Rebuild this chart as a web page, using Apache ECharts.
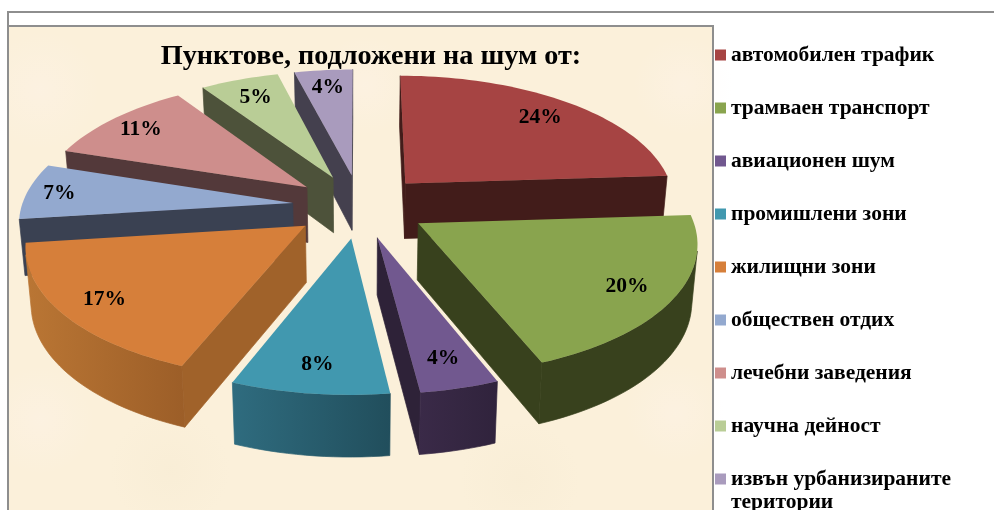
<!DOCTYPE html>
<html lang="bg">
<head>
	<meta charset="UTF-8">
	<title>Пунктове, подложени на шум</title>
	<style>
	body, div {
		margin: 0;
		padding: 0;
	}
	#echart {
		width: 994px;
		height: 510px;
	}
	</style>
</head>
<body>
	<div id="echart"></div>

	<script src="https://cdn.jsdelivr.net/npm/echarts@6/dist/echarts.min.js"></script>

	<script>
	// data, clockwise from 12 o'clock
	var chartTitle = 'Пунктове, подложени на шум от:';
	var categories = [
		'автомобилен трафик',
		'трамваен транспорт',
		'авиационен шум',
		'промишлени зони',
		'жилищни зони',
		'обществен отдих',
		'лечебни заведения',
		'научна дейност',
		'извън урбанизираните територии'
	];
	var values = [24, 20, 4, 8, 17, 7, 10.6, 5.4, 4];

	// colours, same order as categories
	var topColors = ['#A64443', '#89A44E', '#71588F', '#4198AF', '#D67F3A', '#93A9CF', '#CE8E8C', '#B9CD96', '#A99BBD'];
	var faceColors = ['#421C1A', '#38411D', '#2E2238', '#214E5C', '#A0622A', '#3A4152', '#53393A', '#4D523A', '#44404E'];
	var wallLeft = ['#421C1A', '#38411D', '#3A2A48', '#2F6C7F', '#BA7634', '#3A4152', '#53393A', '#4D523A', '#44404E'];
	var wallRight = ['#421C1A', '#38411D', '#30233C', '#214E5C', '#9C5E28', '#3A4152', '#53393A', '#4D523A', '#44404E'];

	// back slices first, front slices paint over them
	var drawOrder = [8, 7, 6, 5, 4, 0, 1, 3, 2];

	// projection of the tilted pie
	var cx = 360, cy = 206;
	var scaleX = 271, scaleY = 127, persp = 0.129;
	var explode = 0.25;
	var labelPos = [0.82, 0.83, 0.82, 0.83, 0.84, 0.88, 0.85, 0.81, 0.83];

	var total = values.reduce(function (a, b) { return a + b; }, 0);
	var starts = [];
	values.reduce(function (sum, v, i) {
		starts[i] = sum / total * Math.PI * 2;
		return sum + v;
	}, 0);

	function project(x, y) {
		var w = 1 + persp * y;
		return [cx + scaleX * x / w, cy - scaleY * y / w];
	}
	// same point on the bottom plane of the pie
	function lower(x, y) {
		var p = project(x, y);
		return [cx + (p[0] - cx) * 0.983, p[1] + 56 - 4.9 * y];
	}
	function area(pts) {
		var s = 0;
		for (var i = 0; i < pts.length; i++) {
			var a = pts[i], b = pts[(i + 1) % pts.length];
			s += a[0] * b[1] - b[0] * a[1];
		}
		return s;
	}

	function sliceItem(idx) {
		return function (params, api) {
			var a0 = starts[idx];
			var a1 = a0 + api.value(0) / total * Math.PI * 2;
			var mid = (a0 + a1) / 2;
			var ox = explode * Math.sin(mid), oy = explode * Math.cos(mid);
			var n = Math.max(4, Math.ceil((a1 - a0) / 0.03));
			var top = [], bottom = [];
			for (var i = 0; i <= n; i++) {
				var a = a0 + (a1 - a0) * i / n;
				var x = ox + Math.sin(a), y = oy + Math.cos(a);
				top.push(project(x, y));
				bottom.push(lower(x, y));
			}
			var apex = project(ox, oy), apexLow = lower(ox, oy);
			var kids = [];

			function addPoly(points, fill, stroke) {
				kids.push({
					type: 'polygon',
					shape: { points: points },
					style: { fill: fill, stroke: stroke || null, lineWidth: stroke ? 0.7 : 0 }
				});
			}

			// radial cut faces, only those turned to the viewer
			var startFace = [apex, top[0], bottom[0], apexLow];
			var endFace = [top[n], apex, apexLow, bottom[n]];
			if (area(startFace) < 0) addPoly(startFace, faceColors[idx], faceColors[idx]);
			if (area(endFace) < 0) addPoly(endFace, faceColors[idx], faceColors[idx]);

			// outer wall
			var upper = [], under = [];
			for (var j = 0; j < n; j++) {
				if (area([top[j], top[j + 1], bottom[j + 1], bottom[j]]) < 0) {
					if (!upper.length) { upper.push(top[j]); under.push(bottom[j]); }
					upper.push(top[j + 1]);
					under.push(bottom[j + 1]);
				}
			}
			if (upper.length) {
				var wallFill = new echarts.graphic.LinearGradient(0, 0, 1, 0, [
					{ offset: 0, color: wallLeft[idx] },
					{ offset: 1, color: wallRight[idx] }
				]);
				addPoly(upper.concat(under.reverse()), wallFill, wallFill);
			}

			// top face
			addPoly([apex].concat(top), topColors[idx]);

			// value label
			var lp = project(ox + labelPos[idx] * Math.sin(mid), oy + labelPos[idx] * Math.cos(mid));
			kids.push({
				type: 'text',
				z2: 10,
				style: {
					text: Math.round(api.value(0) / total * 100) + '%',
					x: lp[0],
					y: lp[1] + 1,
					textAlign: 'center',
					textVerticalAlign: 'middle',
					fill: '#000',
					font: 'bold 21.5px "Liberation Serif"'
				}
			});
			return { type: 'group', children: kids };
		};
	}

	// soft pale and dark spots of the paper texture
	function paperSpot(x, y, r, color, clear) {
		return {
			type: 'circle',
			z: -9,
			shape: { cx: x, cy: y, r: r },
			style: {
				fill: new echarts.graphic.RadialGradient(0.5, 0.5, 0.5, [
					{ offset: 0, color: color },
					{ offset: 1, color: clear }
				])
			}
		};
	}

	var myEchart = echarts.init(document.getElementById('echart'));
	var line = '#8E8E8E';
	var pale = 'rgba(255,244,240,0.3)', paleEnd = 'rgba(255,244,240,0)';
	var dark = 'rgba(240,228,200,0.2)', darkEnd = 'rgba(240,228,200,0)';

	var option = {
		animation: false,
		backgroundColor: '#fff',
		title: {
			text: chartTitle,
			left: 366,
			top: 38,
			textAlign: 'center',
			textStyle: {
				color: '#000',
				fontFamily: 'Liberation Serif',
				fontWeight: 'bold',
				fontSize: 28.2
			}
		},
		legend: {
			orient: 'vertical',
			left: 715,
			top: 44,
			icon: 'rect',
			itemWidth: 11,
			itemHeight: 11,
			itemGap: 31,
			padding: 0,
			selectedMode: false,
			data: categories,
			formatter: function (name) {
				return name.replace(' територии', '');
			},
			textStyle: {
				color: '#000',
				fontFamily: 'Liberation Serif',
				fontWeight: 'bold',
				fontSize: 21.5,
				lineHeight: 20
			}
		},
		graphic: {
			elements: [
				// paper background of the plot
				{ type: 'rect', z: -10, shape: { x: 8, y: 26, width: 705, height: 484 }, style: { fill: '#FBF0DA' } },
				paperSpot(40, 90, 60, pale, paleEnd),
				paperSpot(683, 85, 50, pale, paleEnd),
				paperSpot(365, 85, 50, pale, paleEnd),
				paperSpot(40, 420, 55, pale, paleEnd),
				paperSpot(675, 413, 50, pale, paleEnd),
				paperSpot(170, 470, 60, dark, darkEnd),
				paperSpot(520, 480, 60, dark, darkEnd),
				// frames
				{ type: 'line', z: -5, shape: { x1: 8, y1: 12, x2: 994, y2: 12 }, style: { stroke: line, lineWidth: 2 } },
				{ type: 'line', z: -5, shape: { x1: 8, y1: 11, x2: 8, y2: 510 }, style: { stroke: line, lineWidth: 2 } },
				{ type: 'line', z: -5, shape: { x1: 8, y1: 26, x2: 713, y2: 26 }, style: { stroke: line, lineWidth: 2 } },
				{ type: 'line', z: -5, shape: { x1: 713, y1: 25, x2: 713, y2: 510 }, style: { stroke: line, lineWidth: 2 } },
				// wrapped second line of the last legend entry
				{
					type: 'text',
					z: 5,
					style: {
						text: 'територии',
						x: 731,
						y: 502,
						textVerticalAlign: 'middle',
						fill: '#000',
						font: 'bold 21.5px "Liberation Serif"'
					}
				}
			]
		},
		series: drawOrder.map(function (idx) {
			return {
				type: 'custom',
				name: categories[idx],
				coordinateSystem: 'none',
				silent: true,
				itemStyle: { color: topColors[idx] },
				renderItem: sliceItem(idx),
				data: [[values[idx]]]
			};
		})
	};

	myEchart.setOption(option);
	</script>
</body>
</html>
